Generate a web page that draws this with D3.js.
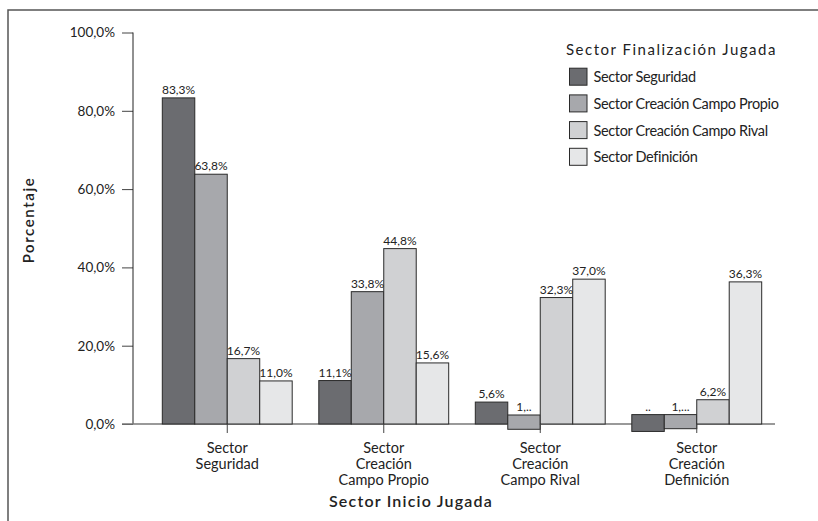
<!DOCTYPE html>
<html>
<head>
<meta charset="utf-8">
<script src="https://cdn.jsdelivr.net/npm/d3@7"></script>
<style>
  html, body { margin: 0; padding: 0; background: #fff; }
  svg { display: block; }
  text { font-family: Lato, "Open Sans", sans-serif; fill: #222; }
</style>
</head>
<body>
<svg id="chart" width="818" height="521"></svg>
<script>
// ---- Data ----
const categories = ["Sector Seguridad", "Sector Creación Campo Propio", "Sector Creación Campo Rival", "Sector Creación Definición"];
const categoryLines = [["Sector", "Seguridad"], ["Sector", "Creación", "Campo Propio"], ["Sector", "Creación", "Campo Rival"], ["Sector", "Creación", "Definición"]];
const seriesNames = ["Sector Seguridad", "Sector Creación Campo Propio", "Sector Creación Campo Rival", "Sector Definición"];
const seguridadValues  = [83.3, 11.1, 5.6, 2.4];
const propioValues     = [63.8, 33.8, 2.3, 2.4];
const rivalValues      = [16.7, 44.8, 32.3, 6.2];
const definicionValues = [11.0, 15.6, 37.0, 36.3];
// bar bottoms (percent) as drawn in the original (small bars dip below zero)
const seguridadLows  = [0, 0, 0, -1.9];
const propioLows     = [0, 0, -1.35, -1.2];
const rivalLows      = [0, 0, 0, 0];
const definicionLows = [0, 0, 0, 0];
const seguridadLabels  = ["83,3%", "11,1%", "5,6%", ".."];
const propioLabels     = ["63,8%", "33,8%", "1,..", "1,..."];
const rivalLabels      = ["16,7%", "44,8%", "32,3%", "6,2%"];
const definicionLabels = ["11,0%", "15,6%", "37,0%", "36,3%"];
const yTicks = [0, 20, 40, 60, 80, 100];
const yTickLabels = ["0,0%", "20,0%", "40,0%", "60,0%", "80,0%", "100,0%"];
const colors = ["#6b6c70", "#a7a8ac", "#d0d1d3", "#e6e7e8"];

const seriesValues = [seguridadValues, propioValues, rivalValues, definicionValues];
const seriesLows = [seguridadLows, propioLows, rivalLows, definicionLows];
const seriesLabels = [seguridadLabels, propioLabels, rivalLabels, definicionLabels];

const svg = d3.select("#chart");

// frame
svg.append("rect").attr("x", 8).attr("y", 10).attr("width", 900).attr("height", 600)
  .attr("fill", "none").attr("stroke", "#555").attr("stroke-width", 1.5);

const y = d3.scaleLinear().domain([0, 100]).range([424, 32.5]);
const x0 = d3.scaleBand().domain(categories).range([149, 775]).paddingInner(0.17).paddingOuter(0.085);
const x1 = d3.scaleBand().domain(seriesNames).range([0, x0.bandwidth()]);

// y axis
const yAxis = d3.axisLeft(y).tickValues(yTicks).tickFormat((d, i) => yTickLabels[i]).tickSize(11).tickPadding(7);
const gy = svg.append("g").attr("transform", "translate(133,0)").call(yAxis);
gy.select(".domain").remove();
gy.selectAll(".tick line").attr("stroke", "#444");
gy.selectAll(".tick text").style("font-size", "13.5px").style("font-family", "Lato, sans-serif").attr("fill", "#333");
svg.append("line").attr("x1", 133).attr("x2", 133).attr("y1", y(100)).attr("y2", y(0)).attr("stroke", "#222").attr("stroke-width", 1);

// bars
const rows = [];
categories.forEach((c, ci) => {
  seriesNames.forEach((s, si) => {
    rows.push({ c, s, si, v: seriesValues[si][ci], low: seriesLows[si][ci], label: seriesLabels[si][ci] });
  });
});

// baseline
svg.append("line").attr("x1", 122).attr("x2", 775).attr("y1", y(0)).attr("y2", y(0)).attr("stroke", "#777").attr("stroke-width", 1.5);

svg.append("g").selectAll("rect").data(rows).join("rect")
  .attr("x", d => x0(d.c) + x1(d.s))
  .attr("width", x1.bandwidth())
  .attr("y", d => y(d.v))
  .attr("height", d => y(d.low) - y(d.v))
  .attr("fill", d => colors[d.si])
  .attr("stroke", "#2a2a2a").attr("stroke-width", 1);

svg.append("g").selectAll("text").data(rows).join("text")
  .attr("x", d => x0(d.c) + x1(d.s) + x1.bandwidth() / 2)
  .attr("y", d => y(d.v) - 4)
  .attr("text-anchor", "middle")
  .style("font-size", "12px")
  .attr("fill", "#333")
  .text(d => d.label);

// x category ticks and labels
const gx = svg.append("g");
categories.forEach((c, ci) => {
  const cx = x0(c) + x0.bandwidth() / 2;
  gx.append("line").attr("x1", cx).attr("x2", cx).attr("y1", y(0)).attr("y2", y(0) + 9).attr("stroke", "#444");
  categoryLines[ci].forEach((ln, li) => {
    gx.append("text").attr("x", cx).attr("y", 453 + li * 16).attr("text-anchor", "middle")
      .style("font-size", "14.5px").attr("fill", "#333").text(ln);
  });
});

// axis titles
svg.append("text").attr("x", 411).attr("y", 507).attr("text-anchor", "middle")
  .style("font-size", "16px").style("font-weight", "600").style("letter-spacing", "1.2px").attr("fill", "#222")
  .text("Sector Inicio Jugada");
svg.append("text").attr("transform", "translate(34,220) rotate(-90)").attr("text-anchor", "middle")
  .style("font-size", "15px").style("font-weight", "600").style("letter-spacing", "1.6px").attr("fill", "#222")
  .text("Porcentaje");

// legend
const lg = svg.append("g");
lg.append("text").attr("x", 566).attr("y", 55).style("font-size", "15px").style("font-weight", "400").style("letter-spacing", "1.5px").attr("fill", "#222")
  .text("Sector Finalización Jugada");
seriesNames.forEach((s, i) => {
  const cy = 76.7 + i * 26.7;
  lg.append("rect").attr("x", 569.5).attr("y", cy - 8.5).attr("width", 17.5).attr("height", 17)
    .attr("fill", colors[i]).attr("stroke", "#2a2a2a").attr("stroke-width", 1);
  lg.append("text").attr("x", 593.5).attr("y", cy + 5.5).style("font-size", "14.5px").style("font-weight", "400").style("letter-spacing", "-0.35px").attr("fill", "#222").text(s);
});
</script>
</body>
</html>
